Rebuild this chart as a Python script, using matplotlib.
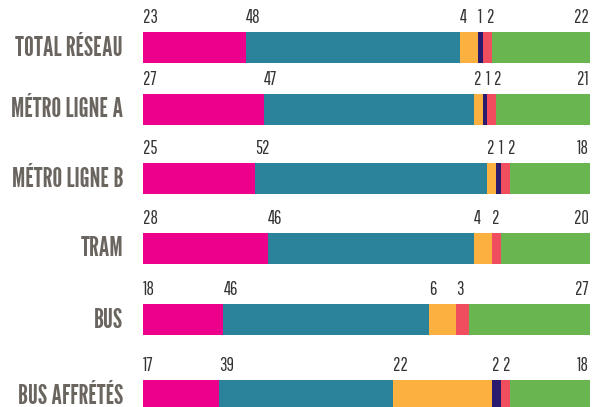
import matplotlib
matplotlib.use("Agg")
import matplotlib.pyplot as plt
from matplotlib.textpath import TextPath
from matplotlib.font_manager import FontProperties

# ---- data ----
categories = ["TOTAL RÉSEAU", "MÉTRO LIGNE A", "MÉTRO LIGNE B", "TRAM", "BUS", "BUS AFFRÉTÉS"]
pink = [23, 27, 25, 28, 18, 17]
teal = [48, 47, 52, 46, 46, 39]
orange = [4, 2, 2, 4, 6, 22]
navy = [1, 1, 1, 0, 0, 2]
red = [2, 2, 2, 2, 3, 2]
green = [22, 21, 18, 20, 27, 18]

series = [pink, teal, orange, navy, red, green]
colors = ["#EC008C", "#2B829B", "#FBB040", "#2A1B6E", "#F04E5E", "#69B550"]

# ---- layout ----
W, H = 594, 407
DPI = 100
row_y = [47.5, 109.5, 178.5, 248.5, 319.5, 395.5]  # bar centres in px
bar_h = 31
x0_px, x1_px = 143, 590
num_font, num_weight = "Pathway Gothic One", "normal"
cat_font, cat_weight = "League Gothic", "normal"


def size_for_cap(family, weight, cap_px):
    h = TextPath((0, 0), "H", prop=FontProperties(family=family, weight=weight, size=10)).get_extents().height
    return cap_px / (h / 10 * DPI / 72)


def text_width_px(s, family, weight, size):
    e = TextPath((0, 0), s, prop=FontProperties(family=family, weight=weight, size=size)).get_extents()
    return e.width * DPI / 72


num_size = size_for_cap(num_font, num_weight, 13)
cat_size = size_for_cap(cat_font, cat_weight, 20)

fig = plt.figure(figsize=(W / DPI, H / DPI), dpi=DPI)
ax = fig.add_axes([x0_px / W, 0, (x1_px - x0_px) / W, 1])
ax.set_xlim(0, 100)
ax.set_ylim(H, 0)
ax.axis("off")
px_per_unit = (x1_px - x0_px) / 100

n = len(categories)
left = [0.0] * n
for vals, col in zip(series, colors):
    ax.barh(row_y, vals, left=left, height=bar_h, color=col, linewidth=0)
    left = [l + v for l, v in zip(left, vals)]

# value labels
for i in range(n):
    start = 0.0
    prev_end = -1e9
    for k, vals in enumerate(series):
        v = vals[i]
        if v > 0:
            s = str(v)
            wpx = text_width_px(s, num_font, num_weight, num_size)
            if k == len(series) - 1:
                x, ha = start + v - 0.3, "right"
            else:
                x = max(start, prev_end + 6 / px_per_unit)
                prev_end = x + wpx / px_per_unit
                ha = "left"
            ax.text(x, row_y[i] - bar_h / 2 - 9, s, ha=ha, va="baseline",
                    fontsize=num_size, family=num_font, color="#333333")
        start += v

# category labels
for i, c in enumerate(categories):
    fig.text(123 / W, 1 - (row_y[i] + 8) / H, c, ha="right", va="baseline",
             fontsize=cat_size, family=cat_font, fontweight=cat_weight, color="#6B6560")

fig.savefig("out.png", dpi=DPI)
